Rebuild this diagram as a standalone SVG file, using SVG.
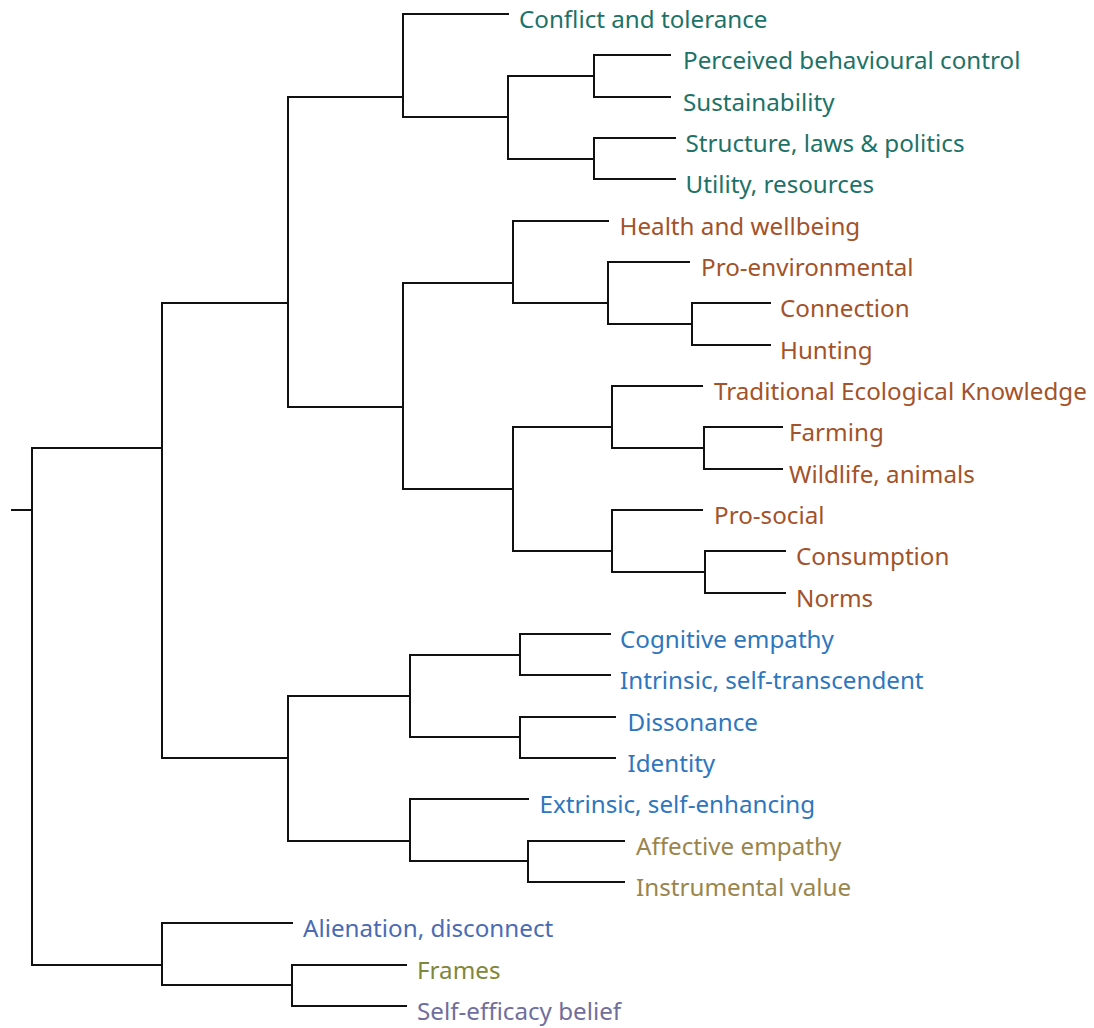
<svg xmlns="http://www.w3.org/2000/svg" width="1094" height="1028" viewBox="0 0 1094 1028">
  <style>
    .edge { fill: none; stroke: #111111; stroke-width: 2; stroke-linejoin: miter; stroke-linecap: square; }
    text { font-family: "Noto Sans", "Open Sans", "DejaVu Sans", sans-serif; font-size: 24.2px; }
    .teal { fill: #1d7268; }
    .brown { fill: #a3522a; }
    .blue { fill: #2e76be; }
    .tan { fill: #9a854d; }
    .slate { fill: #4a6bb3; }
    .olive { fill: #80873a; }
    .mauve { fill: #706e9c; }
  </style>
  <rect width="1094" height="1028" fill="#ffffff"/>

  <!-- dendrogram branches: each path is one merge bracket -->
  <g id="connectors">
    <path class="edge" d="M12,510 H32"/>
    <path class="edge" d="M162,448 H32 V965 H162"/>
    <path class="edge" d="M288,303 H162 V758 H288"/>
    <path class="edge" d="M292,923 H162 V985 H292"/>
    <path class="edge" d="M406,965 H292 V1006 H406"/>
    <path class="edge" d="M403,97 H288 V407 H403"/>
    <path class="edge" d="M410,696 H288 V841 H410"/>
    <path class="edge" d="M508,14 H403 V117 H508"/>
    <path class="edge" d="M594,76 H508 V159 H594"/>
    <path class="edge" d="M670,55 H594 V97 H670"/>
    <path class="edge" d="M675,138 H594 V179 H675"/>
    <path class="edge" d="M513,283 H403 V489 H513"/>
    <path class="edge" d="M608,221 H513 V303 H608"/>
    <path class="edge" d="M689,262 H608 V324 H692"/>
    <path class="edge" d="M770,303 H692 V345 H770"/>
    <path class="edge" d="M612,427 H513 V551 H612"/>
    <path class="edge" d="M702,386 H612 V448 H704"/>
    <path class="edge" d="M782,427 H704 V469 H782"/>
    <path class="edge" d="M702,510 H612 V572 H705"/>
    <path class="edge" d="M785,551 H705 V593 H785"/>
    <path class="edge" d="M520,655 H410 V737 H520"/>
    <path class="edge" d="M610,634 H520 V675 H610"/>
    <path class="edge" d="M615,717 H520 V758 H615"/>
    <path class="edge" d="M528,799 H410 V861 H528"/>
    <path class="edge" d="M624,841 H528 V882 H624"/>
  </g>

  <!-- leaf labels -->
  <g id="leaf-conflict"><text class="teal" x="519" y="28">Conflict and tolerance</text></g>
  <g id="leaf-perceived"><text class="teal" x="683" y="69">Perceived behavioural control</text></g>
  <g id="leaf-sustainability"><text class="teal" x="683" y="111">Sustainability</text></g>
  <g id="leaf-structure"><text class="teal" x="685.5" y="152">Structure, laws &amp; politics</text></g>
  <g id="leaf-utility"><text class="teal" x="685.5" y="193">Utility, resources</text></g>

  <g id="leaf-health"><text class="brown" x="619.5" y="235">Health and wellbeing</text></g>
  <g id="leaf-proenv"><text class="brown" x="701" y="276">Pro-environmental</text></g>
  <g id="leaf-connection"><text class="brown" x="780" y="317">Connection</text></g>
  <g id="leaf-hunting"><text class="brown" x="780" y="359">Hunting</text></g>
  <g id="leaf-tek"><text class="brown" x="714" y="400">Traditional Ecological Knowledge</text></g>
  <g id="leaf-farming"><text class="brown" x="789" y="441">Farming</text></g>
  <g id="leaf-wildlife"><text class="brown" x="789" y="483">Wildlife, animals</text></g>
  <g id="leaf-prosocial"><text class="brown" x="714" y="524">Pro-social</text></g>
  <g id="leaf-consumption"><text class="brown" x="796" y="565">Consumption</text></g>
  <g id="leaf-norms"><text class="brown" x="796" y="607">Norms</text></g>

  <g id="leaf-cognitive"><text class="blue" x="620" y="648">Cognitive empathy</text></g>
  <g id="leaf-intrinsic"><text class="blue" x="620" y="689">Intrinsic, self-transcendent</text></g>
  <g id="leaf-dissonance"><text class="blue" x="627.5" y="731">Dissonance</text></g>
  <g id="leaf-identity"><text class="blue" x="627.5" y="772">Identity</text></g>
  <g id="leaf-extrinsic"><text class="blue" x="539.5" y="813">Extrinsic, self-enhancing</text></g>
  <g id="leaf-affective"><text class="tan" x="636" y="855">Affective empathy</text></g>
  <g id="leaf-instrumental"><text class="tan" x="636" y="896">Instrumental value</text></g>

  <g id="leaf-alienation"><text class="slate" x="303" y="937">Alienation, disconnect</text></g>
  <g id="leaf-frames"><text class="olive" x="417" y="979">Frames</text></g>
  <g id="leaf-selfefficacy"><text class="mauve" x="417" y="1020">Self-efficacy belief</text></g>
</svg>
